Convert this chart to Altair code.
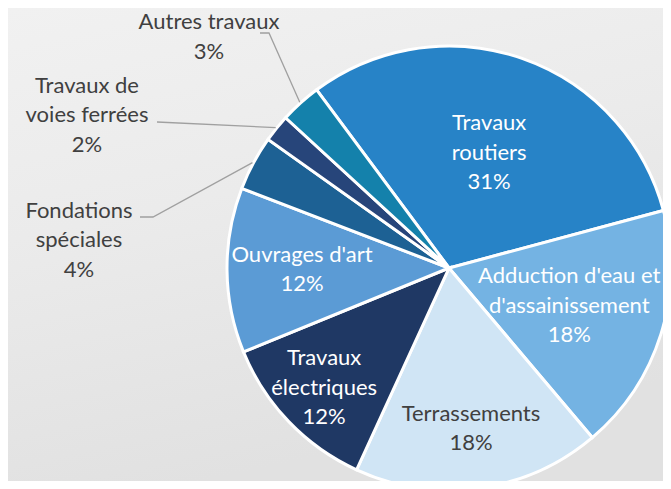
import math
import altair as alt
import pandas as pd

# ---- data ----
categories = ["Travaux routiers", "Adduction d'eau et d'assainissement", "Terrassements",
              "Travaux électriques", "Ouvrages d'art", "Fondations spéciales",
              "Travaux de voies ferrées", "Autres travaux"]
values = [31, 18, 18, 12, 12, 4, 2, 3]
label_lines = ["Travaux\nroutiers", "Adduction d'eau et\nd'assainissement", "Terrassements",
               "Travaux\nélectriques", "Ouvrages d'art", "Fondations\nspéciales",
               "Travaux de\nvoies ferrées", "Autres travaux"]
colors = ["#2783C7", "#74B3E3", "#D0E5F5", "#1F3864", "#5B9BD5", "#1D6194", "#27457A", "#1481AB"]
text_colors = ["white", "white", "#404040", "white", "white", "#404040", "#404040", "#404040"]

# ---- layout ----
W, H = 655, 473
CX, CY, R = 441, 260, 222
START_DEG = -36.6
LH = 29.5
inside_r = [122, 126, 162, 173, 147, None, None, None]
outside_pos = {5: (71, 232), 6: (79, 107), 7: (201, 29)}
leader_start = {5: [(132, 209), (145, 209)], 6: [(149, 114)], 7: [(252, 25), (261, 25)]}

df = pd.DataFrame({"cat": categories, "value": values, "order": range(len(values)),
                   "col": colors})
df["pct"] = [f"{v}%" for v in values]
df["label"] = [l + "\n" + p for l, p in zip(label_lines, df["pct"])]
df["tcolor"] = text_colors
cum = 0.0
mids = []
for v in values:
    mids.append(START_DEG + 3.6 * (cum + v / 2))
    cum += v
df["mid"] = mids

lx, ly = [], []
for i, m in enumerate(mids):
    nlines = df["label"][i].count("\n") + 1
    if inside_r[i] is not None:
        a = math.radians(m)
        x = CX + inside_r[i] * math.sin(a)
        y = CY - inside_r[i] * math.cos(a)
    else:
        x, y = outside_pos[i]
    lx.append(x)
    ly.append(y - (nlines - 1) * LH / 2)
df["lx"] = lx
df["ly"] = ly

rows = []
for i, pts in leader_start.items():
    a = math.radians(mids[i])
    allpts = pts + [(CX + (R + 1) * math.sin(a), CY - (R + 1) * math.cos(a))]
    for k, (x, y) in enumerate(allpts):
        rows.append({"cat": categories[i], "k": k, "x": x, "y": y})
lines_df = pd.DataFrame(rows)

bg = alt.Chart(pd.DataFrame({"a": [0]})).mark_rect(
    color=alt.Gradient(gradient="linear", x1=0, y1=0, x2=0.3, y2=1,
                       stops=[alt.GradientStop(color="#f1f1f1", offset=0),
                              alt.GradientStop(color="#ebebeb", offset=0.45),
                              alt.GradientStop(color="#e1e1e1", offset=1)])
).encode(x=alt.value(0), x2=alt.value(W), y=alt.value(0), y2=alt.value(H))

pie = alt.Chart(df).mark_arc(stroke="white", strokeWidth=3, radius=R).encode(
    theta=alt.Theta("value:Q", stack=True,
                    scale=alt.Scale(range=[2 * math.pi + math.radians(START_DEG),
                                           4 * math.pi + math.radians(START_DEG)])),
    order=alt.Order("order:Q"),
    color=alt.Color("col:N", scale=None),
    x=alt.value(CX), y=alt.value(CY),
)

leaders = alt.Chart(lines_df).mark_line(color="#a0a0a0", strokeWidth=1.3).encode(
    x=alt.X("x:Q", scale=None), y=alt.Y("y:Q", scale=None),
    detail="cat:N", order="k:Q")

texts = alt.Chart(df).mark_text(font="Lato", fontSize=22, lineBreak="\n",
                                lineHeight=LH, baseline="middle", align="center").encode(
    x=alt.X("lx:Q", scale=None), y=alt.Y("ly:Q", scale=None),
    text="label:N", color=alt.Color("tcolor:N", scale=None))

chart = alt.layer(bg, pie, leaders, texts).properties(
    width=W, height=H, padding=0, autosize=alt.AutoSizeParams(type="none")
).configure_view(stroke=None).configure(background="#eeeeee")

chart.save("out.html", embed_options={"renderer": "svg", "actions": False})
